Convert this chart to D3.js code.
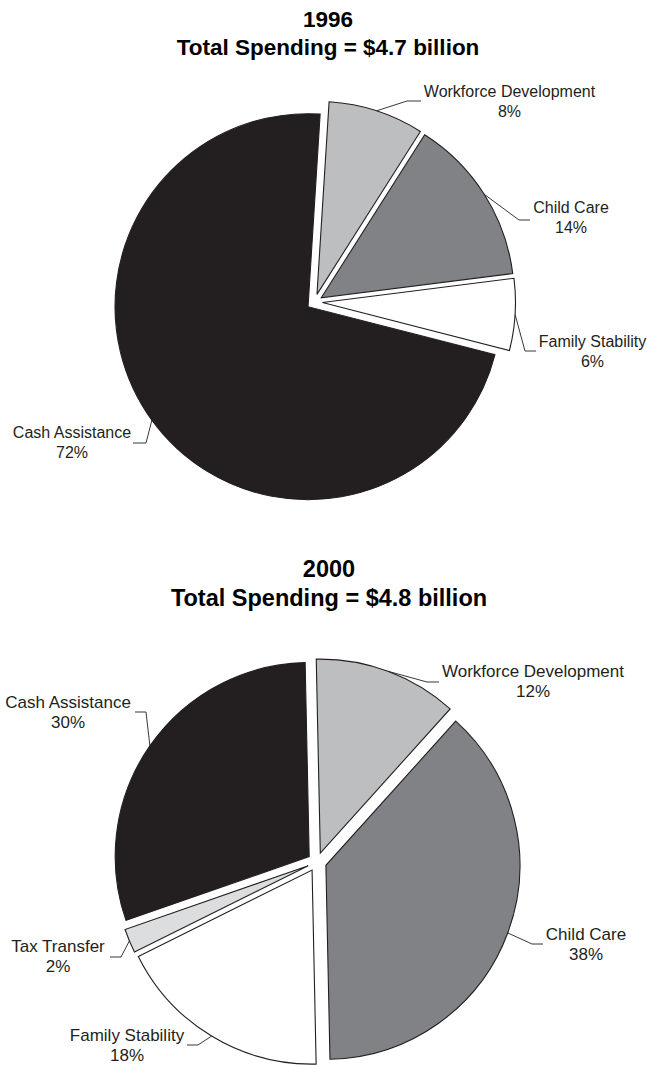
<!DOCTYPE html>
<html>
<head>
<meta charset="utf-8">
<script src="https://cdn.jsdelivr.net/npm/d3@7"></script>
<style>
  html, body { margin: 0; padding: 0; background: #fff; }
  svg { display: block; font-family: "Liberation Sans", Arial, Helvetica, sans-serif; }
</style>
</head>
<body>
<svg id="chart" width="647" height="1065"></svg>
<script>
// Spending shares by program area (percent of total)
const categories1996 = ["Workforce Development", "Child Care", "Family Stability", "Cash Assistance"];
const values1996 = [8, 14, 6, 72];

const categories2000 = ["Workforce Development", "Child Care", "Family Stability", "Tax Transfer", "Cash Assistance"];
const values2000 = [12, 38, 18, 2, 30];

const titles = [
  ["1996", "Total Spending = $4.7 billion"],
  ["2000", "Total Spending = $4.8 billion"]
];

const fills = {
  "Workforce Development": "#bcbec0",
  "Child Care": "#808285",
  "Family Stability": "#ffffff",
  "Tax Transfer": "#dcdddf",
  "Cash Assistance": "#231f20"
};

// Layout of each pie: centre, radius, explode distance, rotation, fonts,
// and where each callout's elbow, tick end and text sit.
const layouts = [
  {
    cx: 314.5, cy: 302, r: 193, explode: 8, rot: 3.6,
    titleX: 328, titleY: [27, 55], titleSize: 22.5,
    labelSize: 16, lineGap: 20,
    labels: {
      "Workforce Development": { elbow: [407, 101], end: [421, 101], tx: 509.5, ty: 97 },
      "Child Care":            { elbow: [519, 220], end: [530, 220], tx: 571, ty: 213 },
      "Family Stability":      { elbow: [525, 351], end: [536, 351], tx: 592.5, ty: 347 },
      "Cash Assistance":       { elbow: [146, 443], end: [133, 443], tx: 72, ty: 438 }
    }
  },
  {
    cx: 317, cy: 862, r: 194, explode: 9.5, rot: -1.2,
    titleX: 329, titleY: [577, 606], titleSize: 23.5,
    labelSize: 17, lineGap: 20,
    labels: {
      "Workforce Development": { elbow: [427, 682], end: [439, 682], tx: 533, ty: 677 },
      "Child Care":            { elbow: [532, 944], end: [543, 944], tx: 586, ty: 940 },
      "Family Stability":      { elbow: [198, 1045], end: [187, 1045], tx: 127, ty: 1041 },
      "Tax Transfer":          { elbow: [121, 957], end: [110, 957], tx: 58, ty: 952 },
      "Cash Assistance":       { elbow: [146, 712], end: [135, 712], tx: 68, ty: 708 }
    }
  }
];

const svg = d3.select("#chart");

function drawPie(cats, vals, title, L) {
  const rad = L.rot * Math.PI / 180;
  const data = cats.map((c, i) => ({ cat: c, value: vals[i] }));
  const pie = d3.pie().sort(null).value(d => d.value)
    .startAngle(rad).endAngle(rad + 2 * Math.PI);
  const arc = d3.arc().innerRadius(0).outerRadius(L.r);
  const arcs = pie(data);

  // titles
  const t = svg.append("text")
    .attr("text-anchor", "middle")
    .attr("font-weight", "bold")
    .attr("font-size", L.titleSize)
    .attr("fill", "#000");
  title.forEach((line, i) => {
    t.append("tspan").attr("x", L.titleX).attr("y", L.titleY[i]).text(line);
  });

  const g = svg.append("g").attr("transform", `translate(${L.cx},${L.cy})`);

  arcs.forEach(a => {
    const mid = (a.startAngle + a.endAngle) / 2;
    const ox = L.explode * Math.sin(mid);
    const oy = -L.explode * Math.cos(mid);

    g.append("path")
      .attr("transform", `translate(${ox},${oy})`)
      .attr("d", arc(a))
      .attr("fill", fills[a.data.cat])
      .attr("stroke", "#231f20")
      .attr("stroke-width", 1.1)
      .attr("stroke-linejoin", "miter");

    // callout leader: from the rim at the slice's mid-angle, to the elbow, then a short tick
    const lab = L.labels[a.data.cat];
    const sx = L.cx + ox + L.r * Math.sin(mid);
    const sy = L.cy + oy - L.r * Math.cos(mid);
    svg.append("polyline")
      .attr("points", [[sx, sy], lab.elbow, lab.end].map(p => p.join(",")).join(" "))
      .attr("fill", "none")
      .attr("stroke", "#231f20")
      .attr("stroke-width", 0.9);

    const txt = svg.append("text")
      .attr("text-anchor", "middle")
      .attr("font-size", L.labelSize)
      .attr("fill", "#231f20");
    txt.append("tspan").attr("x", lab.tx).attr("y", lab.ty).text(a.data.cat);
    txt.append("tspan").attr("x", lab.tx).attr("y", lab.ty + L.lineGap).text(a.data.value + "%");
  });
}

drawPie(categories1996, values1996, titles[0], layouts[0]);
drawPie(categories2000, values2000, titles[1], layouts[1]);
</script>
</body>
</html>
